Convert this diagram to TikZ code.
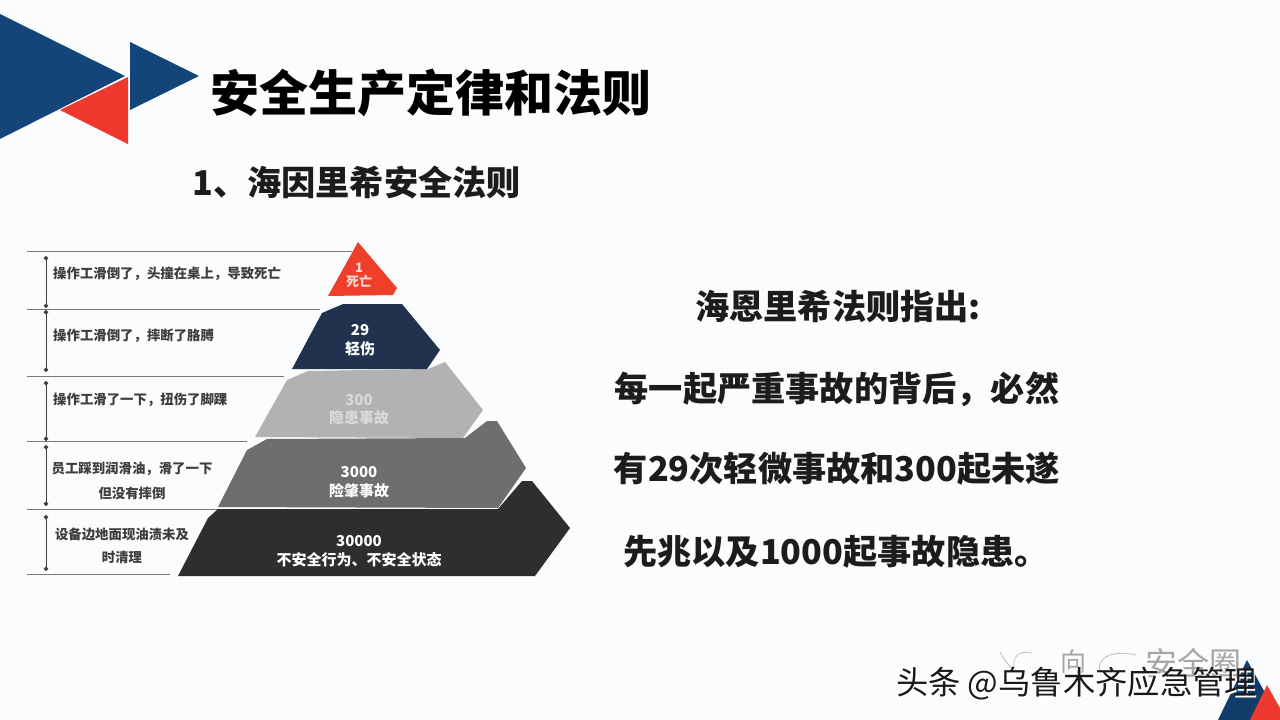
\documentclass[tikz,border=0pt]{standalone}
\usepackage{fontspec}
\setmainfont{Noto Sans CJK SC}
\usetikzlibrary{arrows.meta}
\definecolor{bgc}{HTML}{FBFCFE}
\definecolor{navyc}{HTML}{14457A}
\definecolor{redc}{HTML}{EE3A2E}
\definecolor{inkc}{HTML}{1C1C1E}
\definecolor{guidec}{HTML}{77777C}
\definecolor{pnavy}{HTML}{20324E}
\newcommand{\fs}[1]{\fontsize{#1}{#1}\selectfont}
\tikzset{
  headtext/.style={inner sep=0pt,text=black,font=\fs{49}\bfseries},
  subtext/.style={inner sep=0pt,text=inkc,font=\fs{34.2}\bfseries},
  bodytext/.style={inner sep=0pt,text=inkc,font=\fs{34.2}\bfseries},
  steplabel/.style={inner sep=0pt,text=inkc,align=center,font=\fs{13.4}\bfseries,text opacity=.85},
  pyrlabel/.style={inner sep=0pt,align=center,text=white,font=\fs{15}\bfseries},
  guide/.style={draw=guidec,line width=.9pt},
  span/.style={draw=black!75,line width=.8pt,{Circle[length=4.5pt]}-{Circle[length=4.5pt]}},
  faint/.style={draw=black!25,line width=.8pt},
}
\begin{document}
\begin{tikzpicture}[x=1pt,y=-1pt]
\useasboundingbox (0,0) rectangle (1280,720);
\fill[bgc] (0,0) rectangle (1280,720);
% corner arrows
\fill[redc] (128,77) -- (128,144) -- (60,110) -- cycle;
\fill[navyc] (0,14) -- (125,76) -- (0,139) -- cycle;
\fill[navyc] (130,42) -- (199,76) -- (130,110) -- cycle;
% titles
\node[headtext,anchor=west] (title) at (210,93) {安全生产定律和法则};
\node[subtext,anchor=west] (sub) at (192,182) {1、海因里希安全法则};
% guides
\coordinate (g1) at (27,251); \coordinate (g1e) at (352,251);
\coordinate (g2) at (27,309); \coordinate (g2e) at (320,309);
\coordinate (g3) at (27,376); \coordinate (g3e) at (284,376);
\coordinate (g4) at (27,441); \coordinate (g4e) at (247,441);
\coordinate (g5) at (27,509); \coordinate (g5e) at (218,509);
\coordinate (g6) at (27,574); \coordinate (g6e) at (170,574);
\draw[guide] (g1) -- (g1e);
\draw[guide] (g2) -- (g2e);
\draw[guide] (g3) -- (g3e);
\draw[guide] (g4) -- (g4e);
\draw[guide] (g5) -- (g5e);
\draw[guide] (g6) -- (g6e);
\coordinate (s1a) at (46,256); \coordinate (s1b) at (46,308);
\coordinate (s2a) at (46,310); \coordinate (s2b) at (46,372);
\coordinate (s3a) at (46,381); \coordinate (s3b) at (46,441);
\coordinate (s4a) at (46,445); \coordinate (s4b) at (46,506);
\coordinate (s5a) at (46,515); \coordinate (s5b) at (46,571);
\draw[span] (s1a) -- (s1b);
\draw[span] (s2a) -- (s2b);
\draw[span] (s3a) -- (s3b);
\draw[span] (s4a) -- (s4b);
\draw[span] (s5a) -- (s5b);
% left labels
\node[steplabel,anchor=west] (l1) at (53,274) {操作工滑倒了，头撞在桌上，导致死亡};
\node[steplabel,anchor=west] (l2) at (53,336) {操作工滑倒了，摔断了胳膊};
\node[steplabel,anchor=west] (l3) at (53,400) {操作工滑了一下，扭伤了脚踝};
\node[steplabel] (l4) at (132,479) {\rule{0pt}{15pt}员工踩到润滑油，滑了一下\\[10pt]但没有摔倒};
\node[steplabel] (l5) at (122,544) {\rule{0pt}{15pt}设备边地面现油渍未及\\[10pt]时清理};
% pyramid
\fill[redc!92!orange] (358,242) -- (397,288) -- (393,295) -- (328,296) -- cycle;
\fill[black!82] (178,576) -- (208,518) -- (218,509) -- (498,509) -- (522,481) -- (532,481) -- (570,528) -- (535,576) -- cycle;
\fill[black!57] (218,507) -- (247,450) -- (267,439) -- (465,438) -- (487,421) -- (497,421) -- (526,468) -- (498,508) -- cycle;
\fill[black!30] (255,437) -- (287,380) -- (308,371) -- (428,369) -- (445,362) -- (483,410) -- (463,438) -- cycle;
\fill[pnavy] (292,369) -- (322,313) -- (343,304) -- (402,304) -- (440,350) -- (427,369) -- cycle;
\node[pyrlabel,font=\fs{13}\bfseries,text=white!85!red] (p1) at (359,275) {1\\[1pt]死亡};
\node[pyrlabel] (p2) at (360,340) {29\\[4pt]轻伤};
\node[pyrlabel,text=white!85!black] (p3) at (359,410) {300\\[3pt]隐患事故};
\node[pyrlabel] (p4) at (359,482) {3000\\[4pt]险肇事故};
\node[pyrlabel] (p5) at (359,551) {30000\\[4pt]不安全行为、不安全状态};
% right text
\node[bodytext] (r1) at (838,306) {海恩里希法则指出:};
\node[bodytext] (r2) at (837,389) {每一起严重事故的背后，必然};
\node[bodytext] (r3) at (837,469) {有29次轻微事故和300起未遂};
\node[bodytext] (r4) at (836,552) {先兆以及1000起事故隐患。};
% corner + watermark
\fill[navyc!85!black] (1247,660) -- (1218,720) -- (1280,720) -- cycle;
\fill[redc] (1267,685) -- (1250,720) -- (1280,720) -- (1280,708) -- cycle;
\draw[faint] (1000,652) .. controls (1006,664) and (1012,670) .. (1022,672);
\draw[faint] (1014,668) .. controls (1012,656) and (1020,650) .. (1032,653);
\draw[faint] (1100,672) .. controls (1096,656) and (1115,650) .. (1136,655);
\node[inner sep=0pt,text=black!35,font=\fs{26}] (wmb) at (1073,662) {向};
\node[inner sep=0pt,text=black!35,font=\fs{32}] (wm) at (1193,663) {安全圈};
\node[inner sep=0pt,text=white,font=\fs{32.3}] (tts) at (1077.5,685.5) {头条 @乌鲁木齐应急管理};
\node[inner sep=0pt,text=black!90,font=\fs{32.3}] (tt) at (1076.5,684) {头条 @乌鲁木齐应急管理};
\end{tikzpicture}
\end{document}
